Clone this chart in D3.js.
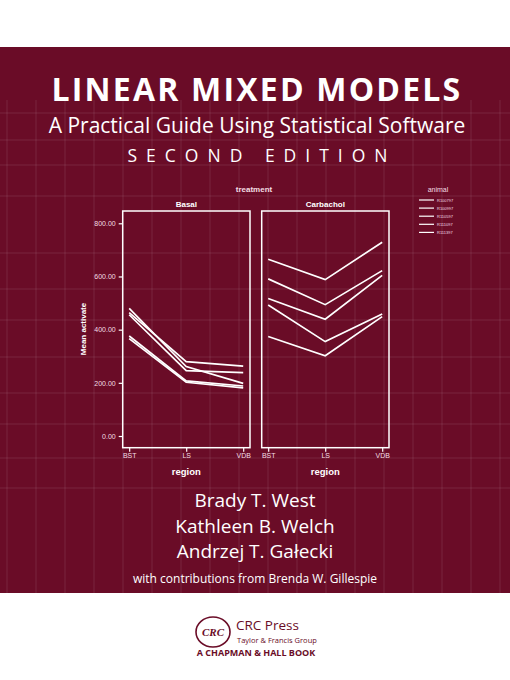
<!DOCTYPE html>
<html><head><meta charset="utf-8">
<script src="https://cdn.jsdelivr.net/npm/d3@7"></script>
<style>body{margin:0;background:#fff}svg{display:block}</style>
</head><body>
<script>
const regions = ["BST","LS","VDB"];
const treatments = ["Basal","Carbachol"];
const animals = ["R100797","R100997","R110597","R111097","R111397"];
const yTicks = [0,200,400,600,800];
const basal = [[464,280,263],[456,246,238],[480,261,198],[376,207,188],[366,202,181]];
const carbachol = [[665,588,729],[591,494,622],[517,439,604],[493,355,459],[374,302,449]];
const seriesByTreatment = [basal, carbachol];
const authors = ["Brady T. West","Kathleen B. Welch","Andrzej T. Gałecki"];

const W=510,H=680, bg="#6a0c27", fg="#fff";
const svg=d3.select("body").append("svg").attr("width",W).attr("height",H);
svg.append("rect").attr("x",0).attr("y",47).attr("width",W).attr("height",546).attr("fill",bg);
const g0=svg.append("g").attr("stroke","#fff").attr("stroke-opacity",0.13).attr("stroke-width",0.8);
d3.range(7,W,29).forEach(x=>g0.append("line").attr("x1",x).attr("x2",x).attr("y1",100).attr("y2",593));
[113,140,165,196,253,289,320,357,393,424,458,488].forEach(y=>g0.append("line").attr("x1",0).attr("x2",W).attr("y1",y).attr("y2",y));

const ff="Liberation Sans, Arial, sans-serif";
const T=(x,y,t,o={})=>svg.append("text").attr("x",x).attr("y",y).attr("text-anchor",o.a||"middle")
 .attr("font-family",o.f||ff).attr("font-size",o.s||10).attr("font-weight",o.w||"normal")
 .attr("fill",o.c||fg).attr("letter-spacing",o.ls||0).text(t);
T(257,101,"LINEAR MIXED MODELS",{s:32,w:"bold",f:"Open Sans, sans-serif",ls:2.2});
T(257,133,"A Practical Guide Using Statistical Software",{s:21,f:"Open Sans, sans-serif"});
T(262,162,"SECOND EDITION",{s:17.5,f:"Open Sans, sans-serif",ls:9});

const y=d3.scaleLinear().domain([0,800]).range([436,223.3]);
const panels=[[122.7,250],[261.7,389]];
const pT=211,pB=447.7;
T(254,192,"treatment",{s:8,w:"bold",c:"#f3dde3"});
panels.forEach((p,i)=>{
  const x=d3.scalePoint().domain(regions).range([p[0]+6.5,p[1]-6.8]);
  svg.append("rect").attr("x",p[0]).attr("y",pT).attr("width",p[1]-p[0]).attr("height",pB-pT)
   .attr("fill","none").attr("stroke",fg).attr("stroke-width",1.5);
  T((p[0]+p[1])/2,207,treatments[i],{s:8,w:"bold"});
  const ax=svg.append("g").attr("transform",`translate(0,${pB})`).call(d3.axisBottom(x).tickSize(4).tickSizeOuter(0));
  ax.select(".domain").remove();
  ax.selectAll("line").attr("stroke",fg).attr("stroke-width",1.2);
  ax.selectAll("text").attr("fill","#f3dde3").attr("font-size",7).attr("font-family",ff).attr("dy","0.5em");
  T((p[0]+p[1])/2,475,"region",{s:9.5,w:"bold"});
  const line=d3.line().x((d,j)=>x(regions[j])).y(d=>y(d));
  seriesByTreatment[i].forEach(s=>svg.append("path").attr("d",line(s)).attr("fill","none")
    .attr("stroke",fg).attr("stroke-width",1.7));
});
const ay=svg.append("g").attr("transform","translate(122.7,0)").call(d3.axisLeft(y).tickValues(yTicks).tickFormat(d3.format(".2f")).tickSize(4));
ay.select(".domain").remove();
ay.selectAll("line").attr("stroke",fg).attr("stroke-width",1.2);
ay.selectAll("text").attr("fill","#f3dde3").attr("font-size",7).attr("font-family",ff);
svg.append("text").attr("transform","translate(86,329) rotate(-90)").attr("text-anchor","middle")
 .attr("font-family",ff).attr("font-size",8).attr("font-weight","bold").attr("fill",fg).text("Mean activate");

T(438,192,"animal",{s:7,c:"#f3dde3"});
animals.forEach((a,i)=>{
  const yy=200+i*8.1;
  svg.append("line").attr("x1",419).attr("x2",434).attr("y1",yy).attr("y2",yy).attr("stroke",fg).attr("stroke-width",1.2);
  T(437,yy+1.5,a,{s:4,a:"start",c:"#f3dde3"});
});

authors.forEach((a,i)=>T(255,507+i*25.5,a,{s:19,f:"Open Sans, sans-serif"}));
T(255,583,"with contributions from Brenda W. Gillespie",{s:12,f:"Open Sans, sans-serif"});

const pc="#6a0c27";
svg.append("ellipse").attr("cx",213).attr("cy",632).attr("rx",17).attr("ry",15).attr("fill","none").attr("stroke",pc).attr("stroke-width",1.6);
T(213,636,"CRC",{s:11,f:"Liberation Serif, serif",w:"bold",c:pc}).attr("font-style","italic");
T(236,630,"CRC Press",{s:13.5,f:"Open Sans, sans-serif",a:"start",c:pc});
T(237,643,"Taylor & Francis Group",{s:7.5,f:"Open Sans, sans-serif",a:"start",c:pc});
T(256,656,"A CHAPMAN & HALL BOOK",{s:9,f:"Open Sans, sans-serif",w:"bold",c:pc});
</script>
</body></html>
